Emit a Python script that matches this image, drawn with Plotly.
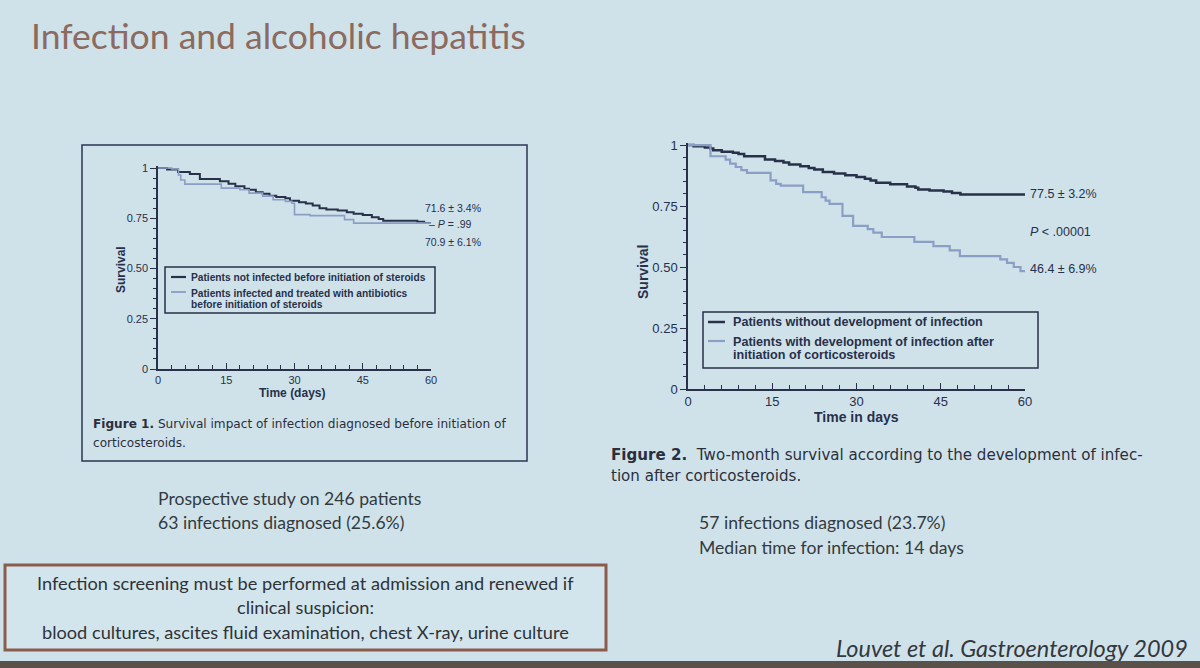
import plotly.graph_objects as go

W, H = 1200, 668

# ---------------- data ----------------
# Figure 1: infection diagnosed before steroids
t1_not_inf = [0, 2, 4.4, 7, 9.2, 13.6, 15.5, 17, 19, 20, 21.5, 23, 24.5, 26, 28, 29, 31, 32.5,
              34, 35.5, 37, 39.5, 41.5, 43, 45, 47, 48.5, 49.5, 57, 58.5, 60]
s1_not_inf = [1, 0.993, 0.98, 0.97, 0.945, 0.934, 0.922, 0.909, 0.897, 0.892, 0.88, 0.872, 0.862,
              0.856, 0.85, 0.837, 0.83, 0.823, 0.813, 0.80, 0.793, 0.788, 0.78, 0.773, 0.766, 0.755,
              0.746, 0.738, 0.733, 0.726, 0.722]
t1_inf = [0, 3, 4.5, 5, 5.9, 13.9, 18, 20, 23, 25.3, 28, 29.4, 30, 33.4, 41, 43, 60]
s1_inf = [1, 0.995, 0.965, 0.94, 0.92, 0.90, 0.892, 0.875, 0.86, 0.842, 0.834, 0.825, 0.768,
          0.763, 0.743, 0.726, 0.722]

# Figure 2: infection developed after corticosteroids
t2_no_dev = [0, 1, 3, 4, 4.5, 6, 8, 9, 10, 13.7, 15.5, 17, 18, 20, 21.5, 22.5, 24, 26, 28, 30,
             31.5, 32.5, 33.5, 36, 39, 40.5, 41, 43, 45.5, 47, 48.5, 60]
s2_no_dev = [1, 0.995, 0.99, 0.986, 0.979, 0.972, 0.968, 0.963, 0.954, 0.941, 0.935, 0.928, 0.92,
             0.913, 0.906, 0.90, 0.89, 0.883, 0.876, 0.869, 0.862, 0.855, 0.845, 0.839, 0.83, 0.825,
             0.818, 0.814, 0.81, 0.803, 0.797, 0.797]
t2_dev = [0, 4, 6.7, 7.5, 8.5, 9.5, 10.5, 14.7, 15.7, 16.5, 20.5, 23.8, 24.5, 25.2, 27.5, 29.4, 32,
          33, 34.5, 40.3, 43.7, 46.6, 48.4, 55.6, 56.8, 58, 59.2, 60]
s2_dev = [1, 0.954, 0.94, 0.924, 0.91, 0.897, 0.886, 0.855, 0.841, 0.834, 0.807, 0.786, 0.772,
          0.759, 0.71, 0.669, 0.655, 0.641, 0.623, 0.603, 0.586, 0.568, 0.545, 0.531, 0.517,
          0.50, 0.483, 0.483]

y_tickvals = [0, 0.25, 0.5, 0.75, 1]
y_ticktext = ["0", "0.25", "0.50", "0.75", "1"]
x_tickvals = [0, 15, 30, 45, 60]

# ---------------- styling ----------------
BG = "#cfe2ea"
NAVY = "#28304a"
LIGHT = "#8b9ec4"
SANS = "Liberation Sans, Arial, sans-serif"
WIDE = "DejaVu Sans, Verdana, sans-serif"
SLIDE = "Lato, Open Sans, sans-serif"


def px(x):
    return x / W


def py(y):
    return 1 - y / H


fig = go.Figure()
fig.add_trace(go.Scatter(x=t1_not_inf, y=s1_not_inf, mode="lines", line=dict(shape="hv", color=NAVY, width=2),
                         xaxis="x", yaxis="y", showlegend=False))
fig.add_trace(go.Scatter(x=t1_inf, y=s1_inf, mode="lines", line=dict(shape="hv", color=LIGHT, width=1.6),
                         xaxis="x", yaxis="y", showlegend=False))
fig.add_trace(go.Scatter(x=t2_no_dev, y=s2_no_dev, mode="lines", line=dict(shape="hv", color=NAVY, width=2.5),
                         xaxis="x2", yaxis="y2", showlegend=False))
fig.add_trace(go.Scatter(x=t2_dev, y=s2_dev, mode="lines", line=dict(shape="hv", color=LIGHT, width=2.2),
                         xaxis="x2", yaxis="y2", showlegend=False))


def xaxis(dom, size, anchor):
    return dict(domain=dom, range=[0, 60], anchor=anchor, showgrid=False, zeroline=False, automargin=False,
                showline=True, linecolor=NAVY, linewidth=1.5, tickmode="array", tickvals=x_tickvals,
                ticks="inside", ticklen=6, tickcolor=NAVY, tickwidth=1.3,
                minor=dict(tickmode="linear", tick0=0, dtick=3, ticks="inside", ticklen=4,
                           tickcolor=NAVY, tickwidth=1.2),
                tickfont=dict(family=SANS, size=size, color=NAVY), fixedrange=True)


def yaxis(dom, size, anchor):
    return dict(domain=dom, range=[0, 1.01], anchor=anchor, showgrid=False, zeroline=False, automargin=False,
                showline=True, linecolor=NAVY, linewidth=1.5, tickmode="array", tickvals=y_tickvals,
                ticktext=y_ticktext, ticks="outside", ticklen=6, tickcolor=NAVY, tickwidth=1.3,
                minor=dict(tickmode="linear", tick0=0, dtick=0.05, ticks="outside", ticklen=3,
                           tickcolor=NAVY, tickwidth=1.2),
                tickfont=dict(family=SANS, size=size, color=NAVY), fixedrange=True)


fig.update_layout(
    template="none",
    width=W, height=H, autosize=False,
    margin=dict(l=0, r=0, t=0, b=0, pad=0, autoexpand=False),
    paper_bgcolor=BG, plot_bgcolor="rgba(0,0,0,0)",
    xaxis=xaxis([px(158), px(431)], 11, "y"),
    yaxis=yaxis([py(369), py(166)], 11, "x"),
    xaxis2=xaxis([px(688), px(1025)], 13, "y2"),
    yaxis2=yaxis([py(389), py(142.6)], 13, "x2"),
)

shapes = []
annos = []


def text(x, y, s, size, color=NAVY, family=SANS, xanchor="left", angle=0):
    annos.append(dict(x=px(x), y=py(y), xref="paper", yref="paper", text=s, showarrow=False,
                      xanchor=xanchor, yanchor="middle", textangle=angle,
                      font=dict(family=family, size=size, color=color)))


def rect(x0, y0, x1, y1, color, width, fill="rgba(0,0,0,0)"):
    shapes.append(dict(type="rect", xref="paper", yref="paper", x0=px(x0), y0=py(y0), x1=px(x1), y1=py(y1),
                       line=dict(color=color, width=width), fillcolor=fill, layer="below"))


def seg(x0, y0, x1, y1, color, width):
    shapes.append(dict(type="line", xref="paper", yref="paper", x0=px(x0), y0=py(y0), x1=px(x1), y1=py(y1),
                       line=dict(color=color, width=width)))


# title
text(29, 35, "Infection and alcoholic hepatitis", 35.5, color="#8c6a5f", family=SLIDE)

# figure 1 frame
rect(82, 145, 527, 461, "#2c3656", 1.5)

# legend 1
rect(165, 267, 435, 313, NAVY, 1.5)
seg(171, 277, 186, 277, NAVY, 2.2)
seg(171, 292, 186, 292, LIGHT, 1.8)
text(189, 277, "<b>Patients not infected before initiation of steroids</b>", 10.2)
text(189, 293, "<b>Patients infected and treated with antibiotics</b>", 10.2)
text(189, 304, "<b>before initiation of steroids</b>", 10.2)

# legend 2
rect(703, 312, 1038, 368, NAVY, 1.5)
seg(708, 322, 725, 322, NAVY, 2.5)
seg(708, 341, 725, 341, LIGHT, 2.2)
text(731, 322, "<b>Patients without development of infection</b>", 12.6)
text(731, 342, "<b>Patients with development of infection after</b>", 12.6)
text(731, 355, "<b>initiation of corticosteroids</b>", 12.6)

# end-of-curve labels figure 1
text(453, 208, "71.6 ± 3.4%", 10.5, xanchor="center")
text(427, 224, "– <i>P</i> = .99", 10.5)
text(453, 242, "70.9 ± 6.1%", 10.5, xanchor="center")

# end-of-curve labels figure 2
text(1028, 194, "77.5 ± 3.2%", 12.5)
text(1028, 232, "<i>P</i> < .00001", 12.5)
text(1028, 269, "46.4 ± 6.9%", 12.5)

# axis titles
text(292, 393, "<b>Time (days)</b>", 12, xanchor="center")
text(121, 270, "<b>Survival</b>", 12, xanchor="center", angle=-90)
text(856, 417, "<b>Time in days</b>", 14, xanchor="center")
text(643, 272, "<b>Survival</b>", 14, xanchor="center", angle=-90)

# captions
text(91, 424, "<b>Figure 1.</b> Survival impact of infection diagnosed before initiation of", 12.1, color="#2b2f3c", family=WIDE)
text(91, 443, "corticosteroids.", 12.1, color="#2b2f3c", family=WIDE)
text(609, 455, "<b>Figure 2.</b>  Two-month survival according to the development of infec-", 15.1, color="#2b2f3c", family=WIDE)
text(609, 476, "tion after corticosteroids.", 15.1, color="#2b2f3c", family=WIDE)

# slide notes
text(156, 498, "Prospective study on 246 patients", 17.6, color="#333a40", family=SLIDE)
text(156, 522, "63 infections diagnosed (25.6%)", 17.6, color="#333a40", family=SLIDE)
text(697, 522, "57 infections diagnosed (23.7%)", 17.6, color="#333a40", family=SLIDE)
text(697, 547, "Median time for infection: 14 days", 17.6, color="#333a40", family=SLIDE)

# bottom box
rect(5, 565, 606, 650, "#8b5c4e", 3, fill="#d3e5ec")
text(305, 583, "Infection screening must be performed at admission and renewed if", 18.2, color="#2e3338", family=SLIDE, xanchor="center")
text(305, 607, "clinical suspicion:", 18.2, color="#2e3338", family=SLIDE, xanchor="center")
text(305, 632, "blood cultures, ascites fluid examination, chest X-ray, urine culture", 18.2, color="#2e3338", family=SLIDE, xanchor="center")

text(1190, 648, "<i>Louvet et al. Gastroenterology 2009</i>", 23.5, color="#33383e", family=SLIDE, xanchor="right")

# dark strip at bottom edge of the photo
rect(0, 661, 1200, 668, "#5a514b", 0, fill="#5a514b")

fig.update_layout(shapes=shapes, annotations=annos)
fig.write_html(
    "out.html",
    config={"displayModeBar": False},
    post_script="document.body.style.margin='0';",
)
